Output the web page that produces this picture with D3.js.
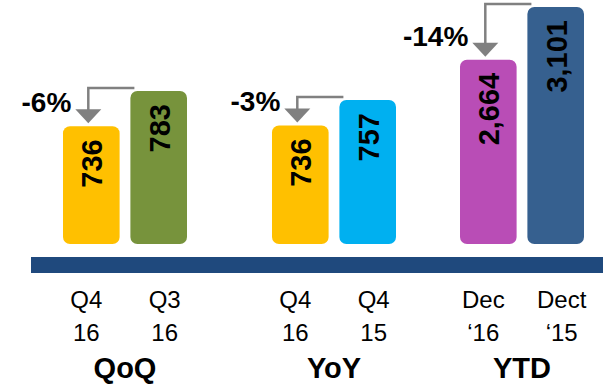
<!DOCTYPE html>
<html>
<head>
<meta charset="utf-8">
<title>QoQ YoY YTD</title>
<script src="https://d3js.org/d3.v7.min.js"></script>
<style>
  body { margin: 0; background: #fff; }
  text { font-family: "Liberation Sans", Arial, sans-serif; }
</style>
</head>
<body>
<svg class="chart" width="603" height="384"></svg>
<script>
// data
const groups = ["QoQ", "YoY", "YTD"];
const currentValues = [736, 736, 2664];
const priorValues = [783, 757, 3101];
const changeLabels = ["-6%", "-3%", "-14%"];
const currentLabels = [["Q4", "16"], ["Q4", "16"], ["Dec", "\u201816"]];
const priorLabels = [["Q3", "16"], ["Q4", "15"], ["Dect", "\u201815"]];

const svg = d3.select("svg.chart");
const baseY = 244;

// colours per bar (current / prior)
const colour = d3.scaleOrdinal()
    .domain(["QoQ-0", "QoQ-1", "YoY-0", "YoY-1", "YTD-0", "YTD-1"])
    .range(["#FFC000", "#77933C", "#FFC000", "#00B0F0", "#B94DB6", "#36608F"]);

// panel start positions (slide layout isn't evenly spaced)
const x = d3.scaleOrdinal().domain(groups).range([63, 272, 460]);
const groupWidth = 124;
const xi = d3.scaleBand().domain([0, 1]).range([0, groupWidth]).paddingInner(0.16);

// each panel has its own truncated value axis
const yScales = {
    QoQ: d3.scaleLinear().domain([579, 783]).range([baseY, 91]),
    YoY: d3.scaleLinear().domain([638, 757]).range([baseY, 100]),
    YTD: d3.scaleLinear().domain([1139, 3101]).range([baseY, 7])
};

const bars = [];
groups.forEach((g, i) => {
    bars.push({g: g, i: i, k: 0, v: currentValues[i], lab: currentLabels[i]});
    bars.push({g: g, i: i, k: 1, v: priorValues[i], lab: priorLabels[i]});
});
bars.forEach(d => {
    d.x0 = x(d.g) + xi(d.k);
    d.cx = d.x0 + xi.bandwidth() / 2;
    d.top = yScales[d.g](d.v);
});

// blue base band
svg.append("rect")
    .attr("x", 31).attr("y", 257)
    .attr("width", 603 - 31).attr("height", 16)
    .attr("fill", "#1F497D");

// change arrows (drawn first so bars sit on top)
const arrows = svg.append("g");
groups.forEach((g, i) => {
    const cur = bars[i * 2], pri = bars[i * 2 + 1];
    const lineY = pri.top - 3;
    const ax = cur.cx - 3;
    const tip = cur.top - 3;
    arrows.append("path")
        .attr("d", `M${pri.x0 + 4},${lineY} H${ax} V${tip - 12}`)
        .attr("fill", "none")
        .attr("stroke", "#808080")
        .attr("stroke-width", 2.5);
    arrows.append("path")
        .attr("d", `M${ax - 13},${tip - 14} L${ax + 13},${tip - 14} L${ax},${tip} Z`)
        .attr("fill", "#808080");
    arrows.append("text")
        .attr("x", ax - 17)
        .attr("y", tip - 11)
        .attr("text-anchor", "end")
        .attr("font-size", 28)
        .attr("font-weight", "bold")
        .text(changeLabels[i]);
});

// bars
svg.append("g").selectAll("rect")
    .data(bars)
    .join("rect")
    .attr("x", d => d.x0)
    .attr("y", d => d.top)
    .attr("width", xi.bandwidth())
    .attr("height", d => baseY - d.top)
    .attr("rx", 7)
    .attr("fill", d => colour(d.g + "-" + d.k));

// rotated values inside bars
svg.append("g").selectAll("text")
    .data(bars)
    .join("text")
    .attr("transform", d => `translate(${d.cx + 11},${d.top + 13}) rotate(-90)`)
    .attr("text-anchor", "end")
    .attr("font-size", 29)
    .attr("font-weight", "bold")
    .attr("fill", "#000")
    .text(d => d3.format(",")(d.v));

// period labels under the band
const labs = svg.append("g");
bars.forEach(d => {
    const lx = d.cx + (d.k === 0 ? -5 : 6);
    d.lab.forEach((t, j) => {
        labs.append("text")
            .attr("x", lx)
            .attr("y", 308 + j * 33)
            .attr("text-anchor", "middle")
            .attr("font-size", 24)
            .attr("fill", "#000")
            .text(t);
    });
});

// group titles
svg.append("g").selectAll("text")
    .data(groups)
    .join("text")
    .attr("x", g => x(g) + groupWidth / 2)
    .attr("y", 378)
    .attr("text-anchor", "middle")
    .attr("font-size", 29)
    .attr("font-weight", "bold")
    .text(g => g);
</script>
</body>
</html>
